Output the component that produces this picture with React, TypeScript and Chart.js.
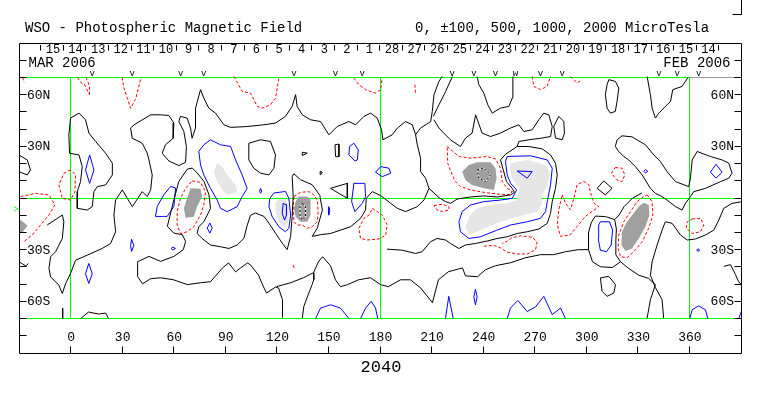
import React, { useEffect, useRef } from "react";
import { Chart, registerables } from "chart.js";

Chart.register(...registerables);

type P = [number, number];

// ---------------- axis / label data ----------------
const xTickValues = [0, 30, 60, 90, 120, 150, 180, 210, 240, 270, 300, 330, 360];
const latTickValues = [-80, -70, -60, -50, -40, -30, -20, -10, 0, 10, 20, 30, 40, 50, 60, 70, 80];
const latLabelValues = [60, 30, -30, -60];
const gridLons = [0, 180, 360];
const gridLats = [70, 0, -70];
const overlapLonStart = 360;
const dayLabels = ["15", "14", "13", "12", "11", "10", "9", "8", "7", "6", "5", "4", "3", "2", "1",
  "28", "27", "26", "25", "24", "23", "22", "21", "20", "19", "18", "17", "16", "15", "14"];
const dayStartLon = -17.4;
const dayWidthLon = 13.15;
const obsLons = [12.6, 35.9, 64, 77.5, 129.9, 154.1, 169.7, 222, 234.6, 247.2, 258.8, 273.4, 286, 342.3, 352.9, 365.4];
const obsMarks = ["v", "v", "v", "v", "v", "v", "v", "v", "v", "v", "w", "v", "v", "v", "v", "v"];
const earthMarkerLat = -7;
const titleText = "WSO - Photospheric Magnetic Field";
const levelsText = "0, \u00B1100, 500, 1000, 2000 MicroTesla";
const leftMonth = "MAR 2006";
const rightMonth = "FEB 2006";
const rotationNumber = "2040";

// ---------------- neutral (0) contours, black ----------------
const neutralA: P[] = [[4.9,49.3],[0,46.4],[-1,36.7],[-0.6,26],[4.9,25],[6.8,18.2],[5.8,9.5],[3.9,3.7],[3.9,-6],[9.7,-7],[12.6,-5],[13.6,3.7],[15.5,6.6],[20.4,7.6],[24.3,13.4],[24.3,20.2],[20.4,26],[14.6,32.8],[10.7,37.6],[8.7,45.4],[4.9,49.3]];
const neutralD: P[] = [[-30,25],[-25.2,22.1],[-23.3,16.3],[-25.2,13.4],[-30,15.3]];
const neutralG: P[] = [[-13.6,-15.7],[-4.8,-9.9],[-3.9,-13.8],[-4.8,-23.5],[-8.7,-31.2],[-11.6,-34.1],[-12.6,-40.9],[-11.6,-45.8],[-6.8,-50.6],[-4.8,-55.5],[-2.9,-49.7],[0,-43.8],[2.9,-36.1],[9.7,-33.2],[18.4,-29.3],[23.3,-26.4],[26.2,-19.6],[25.2,-9.9],[26.2,-1.2],[30.1,4.7],[33,-0.2],[35.9,-5],[41.7,3.7],[44.6,0.8],[46.6,4.7],[47.5,13.4],[45.6,22.1],[44.6,26],[41.7,31.8],[35.9,34.7],[34.9,40.6],[36.9,42.5],[46.6,48.3],[52.3,48.3],[57.2,47.9],[60.1,43.5],[59.7,34.7],[55.2,30.9],[53.3,26],[57.2,21.5],[63,18.8],[66.9,20.8],[67.4,29.9],[65.9,38.6],[63,44.4],[63.9,47.4],[67.8,46.4],[69.8,40.6],[70.7,34.7],[72.7,40.6],[72.7,52.2],[75.6,62.9],[77.5,58],[80.4,52.2],[84.3,49.3],[89.2,42.5],[93.1,41],[102.7,41.5],[112.4,42.5],[119.2,43.5],[125,47.4],[128.9,53.2],[130.9,60],[131.8,53.2],[134.8,48.3],[139.6,45.4],[145.4,44.4],[150.3,36.7],[155.1,41.5],[161.9,44.4],[165.8,42.5],[170.7,47.4],[174.5,49.3],[178.4,46.4],[180.9,39.6],[181.7,33.8],[187.1,36.7],[190.1,40.6],[194.9,44.4],[198.8,42.5],[200.7,36.7],[203.6,40.6],[209.5,44.4],[210.4,50.3],[211.4,60],[214.3,67.7],[216.2,70.6]];
const neutralH: P[] = [[123.3,-69.5],[123.3,-59.1],[121,-52.3],[119.2,-51.7],[114,-55.2],[111.7,-50.5],[109.3,-44.7],[104.7,-38.9],[102.9,-37.7],[98.9,-40.6],[96,-42.9],[91.9,-37.7],[88.4,-40.6],[81.4,-48.6],[75.6,-49.2],[68,-50.3],[59.9,-47.5],[52.3,-46.3],[46.5,-46.9],[41.9,-49.8],[39,-45.7],[39,-37],[45.6,-33.9],[52.4,-36.8],[60.1,-33.9],[65.6,-30],[66.9,-25.2],[65,-21.3],[60.1,-20.4],[56.3,-16.5],[58.2,-8.7],[60.1,-1],[63,9.6],[67.9,16.8],[70.8,17.4],[73.7,14.5],[77.6,9.6],[80.5,1.9],[81.4,-6],[79.5,-9.9],[77.5,-13.8],[74.6,-16.7],[73.6,-20.6],[76.5,-23.5],[81.4,-27.3],[87.2,-28.3],[92.1,-29.3],[96.9,-27.3],[100.8,-23.5],[102.7,-16],[104.7,-10],[107.6,-8.7],[112.5,-10.7],[115.4,-14.6],[119.2,-20.4],[123.1,-26.2],[126,-30],[128,-22.3],[128.9,-10.7],[129.5,0.9],[128.9,12.5],[129.9,14.1],[133.8,10.6],[140.6,7.7],[145,1.5],[146.5,-7],[143.5,-17.5],[140.6,-22.3],[145.4,-21.3],[151.2,-20.6],[162.9,-16.7],[168.7,-11.8],[171.6,-7],[172,-0.2],[175.5,3.7],[180.4,1.4],[186.2,-3.1],[190.1,-6],[194.9,-7.9],[201.7,-5],[205.6,-1.2],[208.5,5.6],[206.5,11.5],[203.6,15.3],[203.6,23.1],[201.7,30.9],[200.7,36.7]];
const neutralLoopB: P[] = [[103.7,31.8],[110.5,33.8],[116.3,32.8],[119.2,25],[118.3,17.3],[115.4,13.4],[110.5,14.4],[106.6,17.3],[103.7,22.1],[103.7,31.8]];
const neutralSmall1: P[] = [[153.8,30.9],[156.1,31.3],[156.1,24],[154.2,24],[153.8,30.9]];
const neutralTri: P[] = [[151.2,5.6],[161,8.5],[161,-0.2],[151.2,5.6]];
const neutralTri2: P[] = [[134.8,26.6],[137.7,26],[134.8,24.7],[134.8,26.6]];
const neutralDot: P[] = [[145.2,15.5],[146.4,15],[145.6,13.6],[145.2,15.5]];
const neutralM: P[] = [[211.4,45.4],[214.3,40.6],[217.1,37.7],[221,33.8],[226.8,29.9],[229.7,34.7],[233.6,37.7],[235.6,48.3],[239.4,37.7],[244.3,35.7],[250.1,37.7],[255.9,40.6],[260.8,42.5],[263.7,38.6],[268.5,39.6],[272.4,45.4],[275.3,49.3],[278.2,48.3],[280.2,41.5],[279.2,35.7],[273.4,34.7],[266.6,33.8],[260.8,32.8],[259.8,29.9],[266.6,29.9],[274.4,28.5],[279.2,25],[282.1,20.2],[283.1,13.4],[282.1,5.6],[280.2,-2.1],[279.2,-8.9],[277.3,-14.7],[272.4,-18],[265.6,-19.6],[259.8,-20.6],[254,-22.5],[248.2,-23.5],[242.3,-25],[235.6,-26.4],[229.7,-27.3],[225.9,-29.3],[221,-26.4],[218.1,-24.4],[213.2,-23.5],[209.4,-25.4],[204.5,-31.2],[200.6,-32.2],[192.9,-30.3],[184.1,-29.7]];
const neutralTop2: P[] = [[222.1,70.6],[218.2,61.9],[214.3,54.1],[211,47.4]];
const neutralTop11: P[] = [[236.5,70.6],[237.5,65.8],[240.4,60.9],[242.7,54.1],[245.3,49.3],[250.1,52.2],[255,53.2],[256.9,58],[257.3,70.6]];
const neutralSaddle: P[] = [[208.5,5.6],[214.3,0.2],[218.2,-2.1],[221,-3.1],[224.9,-0.6],[232.6,0.6],[240.4,1.2],[248.2,0.6],[255.9,1.8],[258.2,3.3],[256.9,5.6],[253.6,9.5],[251.7,16.3],[250.1,22.1],[253,25.4],[259.8,29.9]];
const neutralLoop11: P[] = [[284,47.4],[286.9,44.5],[287.3,37.7],[286,33.8],[282.1,34.8],[281.1,41.6],[284,47.4]];
const neutralN: P[] = [[317.9,33.8],[320.8,36.1],[326.6,35.5],[334.4,30.9],[339.3,25],[343.1,21.2],[347,15.3],[351.9,9.5],[359.6,6.6],[360.6,11.5],[361.6,22.1],[364.5,27],[372.2,24.1],[379,22.1],[382.9,20.2],[384.8,14.4],[382.9,11.5],[378.1,9.5],[369.3,5.6],[362.5,3.7],[360.6,0.8],[357.7,-3.1],[355.7,-7],[351.9,-5],[347,-1.2],[344.1,0.8],[340.2,2.7],[337.3,5.6],[332.5,13.4],[328.6,18.2],[324.7,22.1],[321.8,24.1],[318.9,27],[316.9,29.9],[317.9,33.8]];
const neutralTop12: P[] = [[335.4,70.6],[337.3,60],[338.3,52.2],[340.2,46.4],[342.2,49.3],[346,53.2],[349,56.1],[350.3,62.9],[355.7,64.8],[359.2,70]];
const neutralLoop12: P[] = [[313.1,68.7],[316.9,67.7],[318.9,63.8],[317.9,56.1],[316.9,50.3],[314,49.3],[312.1,52.2],[311.1,60],[312.1,65.8],[313.1,68.7]];
const neutralDiamond: P[] = [[310.2,9.9],[315,5.6],[311.1,1.8],[306.3,5.6],[310.2,9.9]];
const neutralQ1: P[] = [[335.4,-69.7],[337.3,-59.1],[340.2,-50.3],[336.3,-46.7],[330.5,-44.8],[324.7,-40.9],[319.9,-37],[317.2,-33],[317.2,-25],[317.5,-18],[316.5,-12.5],[311.1,-10.8],[305.3,-10.5]];
const neutralR: P[] = [[305.3,-10.5],[303,-14],[301.3,-20],[301.3,-30],[303.6,-37],[308.2,-39.9],[315.2,-40.4],[319.9,-37]];
const neutralQ2: P[] = [[345,-69.7],[344.1,-59.1],[340.2,-52],[337.3,-44.8],[338.3,-37],[341.2,-27.3],[344.1,-18.6],[346,-13.8],[349.9,-14.7],[354.8,-21.5],[358.7,-24.4],[363.5,-23.8],[369.3,-21.5],[374.2,-18.6],[377.1,-12.8],[380,-6],[384.8,-3.1],[390.7,-2.1]];
const neutralS4: P[] = [[332.5,3],[327,0],[322,-5],[319,-10],[316.5,-12.5]];
const neutralP: P[] = [[119.8,-51.5],[128,-49.2],[135.5,-46.3],[141.3,-43.4],[144.2,-37],[146.6,-34.1],[151.2,-39.3],[154.1,-47.5],[157,-51.5],[161.1,-50.3],[167.5,-47.5],[174.5,-46.3],[180.3,-50.3],[184.9,-51.5],[191.9,-47.5],[197.7,-47.5],[203.6,-52.2],[210.5,-60.8],[214,-47.5],[219.8,-42.8],[228,-40.6],[229.7,-45.2],[236.7,-45.7],[241.4,-41.6],[247.2,-39.3],[255.9,-37.6],[264.6,-34.7],[273.4,-32.9],[281,-32.9],[288,-31.2],[295.4,-30],[301.3,-30]];
const neutralBranch: P[] = [[141.3,-43.4],[141.5,-47.4],[140.5,-50.3],[138.6,-55.2],[135.7,-62.9],[134.8,-69.7]];
const neutralEdge1: P[] = [[-4.6,-64],[-4.6,-70]];
const neutralEdge2: P[] = [[5.8,-70],[10.5,-66.2],[16.3,-67.4],[20.4,-66.8],[22.1,-70]];
const neutralLoopS: P[] = [[308.2,-46.4],[313.1,-45.5],[317,-50.3],[316,-55.2],[312.1,-57.1],[309.2,-54.2],[308.2,-46.4]];
const neutralEdge3: P[] = [[380,-39.7],[383.9,-38.7],[386.8,-44.5],[388.5,-48.4],[390.2,-50.3]];
const neutralEdge4: P[] = [[-30,-37],[-26,-39.5],[-24.5,-38]];

// ---------------- negative contours (-100), red dotted ----------------
const negTopA: P[] = [[-28,70],[-27,67]];
const negTopB: P[] = [[4,70],[6,67],[8,66],[11,60]];
const negTopC: P[] = [[9,70],[11,65],[11,60]];
const negTopD: P[] = [[30,70],[31,64],[33,58],[35,52],[38,58],[41,70]];
const negLoopB: P[] = [[0,16.3],[-3.9,14.4],[-6.8,7.6],[-4.8,-0.2],[0,-1.2],[2.5,3.7],[2.9,13.4],[0,16.3]];
const negEdgeC: P[] = [[-29,0.8],[-20.4,2.7],[-12.6,1.8],[-9.1,-4],[-12.6,-9.9],[-17.5,-15.7],[-22.3,-21.5],[-27.2,-25.4]];
const negTopE: P[] = [[95,70.6],[99.8,61.9],[104.7,60.9],[108.6,53.2],[111.5,52.2],[116.3,54.1],[119.2,58],[121.2,69.7]];
const negTopF: P[] = [[164.8,69.7],[167.7,65.8],[171.6,62.9],[177.4,60.9],[180.4,62.9],[181.3,69.7]];
const negTick: P[] = [[200.3,65.8],[200.7,60]];
const negSpot1: P[] = [[70.7,9.9],[75.6,9.1],[78.5,3.7],[77.5,-4],[75.6,-9.9],[71.7,-16.7],[67.8,-19.6],[63.9,-20.6],[62,-15.7],[62,-7.9],[63.9,-0.2],[66.9,5.6],[70.7,9.9]];
const negSpot2: P[] = [[129.9,0.8],[133.8,3.3],[138.6,3.7],[141.5,1.8],[143.5,-1.2],[144,-7.9],[143.5,-13.8],[140.6,-16.7],[137.7,-17.6],[134.8,-15.7],[131.9,-15.7],[129.9,-13.8],[129.5,-6],[129.9,0.8]];
const negLoop10: P[] = [[175.5,-6],[181.3,-9.9],[184.2,-15.7],[183.3,-21.5],[179.4,-23.8],[172.6,-24.4],[168.7,-23.5],[167.7,-17.6],[170.7,-11.8],[173.6,-9.9],[175.5,-6]];
const negSmall10: P[] = [[211.4,-4.4],[216.2,-3.6],[220.1,-5],[220.1,-7],[216.2,-7.9],[213.3,-7],[211.4,-4.4]];
const negSpot3: P[] = [[219.1,29.9],[222,27.4],[225.9,24.1],[232.6,23.1],[242.3,24.1],[247.2,22.7],[250.1,17.3],[251.1,9.5],[254,5.6],[256.9,4.1],[255.9,2.1],[250.1,2.1],[240.4,3.3],[232.6,4.7],[226.8,6.6],[223.9,9.5],[222,13.4],[219.4,20.2],[219.1,29.9]];
const negTopG: P[] = [[268.5,70.6],[269.5,64.8],[273.4,62.9],[277.2,64.8],[279.2,70.6]];
const negTopH: P[] = [[290.8,70.6],[294.7,66.8],[297.6,68.7]];
const negZigzag: P[] = [[286,1.9],[287.9,-3],[290.8,-6.8],[292.8,0],[294.7,7.7],[298.6,9.6],[301.5,7.7],[302.5,2.9],[304.4,-3],[307.3,-4.9],[303.4,-7.8],[299.5,-10.7],[294.7,-16.5],[290.8,-21.3],[285,-22.3],[283.1,-15.5],[284,-6.8],[286,1.9]];
const negLower11: P[] = [[240.4,-28],[246.2,-27.5],[250.1,-29],[254,-31.5],[259.8,-32.5],[265.6,-32.5],[270.5,-30],[271.4,-25.5],[268.5,-22.8],[261.7,-22],[256.9,-23],[254,-25],[251.1,-26.5]];
const negSmall12: P[] = [[316.9,17.7],[320.8,17.3],[322.4,13.4],[320.8,9.5],[317.9,10.5],[314.6,14.4],[316.9,17.7]];
const negSpot4: P[] = [[335.4,1.8],[338.3,-2.1],[338.7,-9.9],[336.3,-17.6],[332.5,-25.4],[327.6,-31.2],[323.7,-34.7],[319.9,-34.1],[318.5,-29.3],[318.9,-21.5],[321.8,-13.8],[325.7,-7.9],[329.6,-2.1],[333.4,0.8],[335.4,1.8]];
const negLoop12: P[] = [[361.6,-12.2],[366.4,-11.8],[368.4,-15.7],[366.4,-19.6],[361.6,-20.6],[358.1,-17.6],[358.7,-13.8],[361.6,-12.2]];
const negTiny: P[] = [[129.5,-39],[130.3,-41]];

// ---------------- positive contours (+100), blue ----------------
const posA: P[] = [[11.1,25],[13.6,16.3],[11.1,8.5],[8.7,16.3],[11.1,25]];
const posEll1: P[] = [[10.6,-38],[12.6,-44],[10.6,-49.6],[8.7,-44],[10.6,-38]];
const posS: P[] = [[50.4,-4.9],[49.4,-10.7],[54,-10.7],[56.2,-10.7],[60.1,-4.9],[61.1,5.8],[58.2,6.7],[54.3,1.9],[50.4,-4.9]];
const posSmall8: P[] = [[35.5,-24],[36.8,-27.5],[35.5,-31],[34.9,-27.5],[35.5,-24]];
const posBig9: P[] = [[81.4,33.8],[87.2,30.9],[93.1,29.9],[96,22.1],[99.8,13.4],[102.7,5.6],[99.8,0.8],[96.9,-5],[91.1,-7.9],[87.2,-6],[85.3,-1.2],[81.4,5.6],[77.5,13.4],[75.6,19.2],[74.6,27],[77.5,30.9],[81.4,33.8]];
const posSmall9: P[] = [[81,-14.5],[82.4,-17.5],[81,-20.4],[79.5,-17.5],[81,-14.5]];
const posCircle9: P[] = [[59.5,-28.5],[61,-29.3],[59.5,-30.2],[58.5,-29.3],[59.5,-28.5]];
const posTiny9: P[] = [[110.5,5.6],[111.2,4],[110.5,2.8],[110,4],[110.5,5.6]];
const posSpot2: P[] = [[118.3,2.9],[125,3.8],[127,-0.2],[128,-9.9],[127,-17.6],[125,-19.6],[121.2,-16.7],[117.3,-10.9],[115.4,-5],[115.9,-0.2],[118.3,2.9]];
const posSpot2In: P[] = [[123.7,-3.1],[125.6,-4],[125.6,-9.9],[124.5,-12.8],[123.1,-8.9],[123.7,-3.1]];
const pos10a: P[] = [[164.8,31.8],[167.4,27.9],[166.8,22.1],[165.4,21.5],[161.9,25],[162.3,29.9],[164.8,31.8]];
const pos10b: P[] = [[180.4,18.2],[185.2,17.3],[186.2,14.4],[181.3,12.4],[177.4,15],[180.4,18.2]];
const pos10c: P[] = [[164.8,8.5],[171.2,8.5],[171.6,0.8],[169.7,-3.1],[165.4,-7.9],[163.5,-2.1],[164.8,8.5]];
const pos10d: P[] = [[150.3,-5],[150.8,-7.5],[150.3,-9.9],[149.8,-7.5],[150.3,-5]];
const posSpot3: P[] = [[253,21.2],[254,24.1],[267.6,24.5],[277.3,22.1],[280.2,17.3],[279.2,7.6],[277.3,-2.1],[276.3,-7.9],[273.4,-11.8],[265.6,-13.8],[255.9,-15.7],[248.2,-18.6],[238.5,-22.5],[231.7,-23.5],[226.8,-19.6],[225.9,-13.8],[227.8,-7.9],[232.6,-4.1],[240.4,-2.1],[250.1,-1.2],[256.9,-0.2],[259.5,4.7],[256,8.5],[254,13.4],[253,21.2]];
const posSpot3In: P[] = [[259.8,15.7],[268.5,15.3],[265.6,11.5],[259.8,15.7]];
const posLoop12: P[] = [[308.2,-13.8],[313.5,-13.8],[315.3,-18.6],[314.5,-27.3],[311.8,-31.2],[308.2,-30.3],[306.9,-23.5],[307.2,-15.7],[308.2,-13.8]];
const posDiamond: P[] = [[375.5,19.6],[379,15],[375.5,11.5],[372.2,15],[375.5,19.6]];
const posTiny12a: P[] = [[334.4,16.5],[335.8,15.5],[334.4,14.5],[333.4,15.5],[334.4,16.5]];
const posTiny12b: P[] = [[365,-29.5],[366,-30.3],[365,-31],[364.2,-30.3],[365,-29.5]];
const posBottom1: P[] = [[142.5,-70],[145.4,-63.9],[151.2,-62],[157,-63.9],[161.9,-70]];
const posBottom2: P[] = [[168.7,-70],[171.6,-63.9],[174.9,-60],[177.4,-63.9],[178.7,-70]];
const posBottom3: P[] = [[218.1,-70],[220,-57.1],[222.6,-70]];
const posEll2: P[] = [[235.5,-53],[236.5,-57.5],[235.5,-62],[234.6,-57.5],[235.5,-53]];
const posBottom4: P[] = [[254,-70],[255.9,-63.9],[260.2,-59.5],[265.6,-65.9],[270.4,-63.3],[275.3,-57.1],[280.2,-67.7],[285,-63.9],[287.9,-70]];
const posBottom5: P[] = [[360.2,-70],[361.6,-64.9],[365.4,-62.6],[369.3,-64.9],[370.7,-70]];
const posBottom6: P[] = [[388.7,-70],[390.6,-64.9]];

// ---------------- strong field areas (|B| >= 500) ----------------
const strongNeg1: P[] = [[69.8,5.6],[75.6,5.3],[76.5,0.8],[73.6,-5],[71.7,-10.9],[66.9,-11.4],[65.9,-6],[67.8,-0.2],[69.8,5.6]];
const strongNeg2: P[] = [[132.8,0.8],[137.7,0.8],[139.6,-0.9],[139.6,-9.9],[137.7,-13.8],[133.8,-13.8],[130.9,-10.9],[129.9,-6],[130.9,-2.1],[132.8,0.8]];
const strongNeg3: P[] = [[227.8,15.3],[231.7,19.2],[236.5,20.8],[244.3,20.8],[247.2,17.3],[247.8,11.5],[246.2,4.7],[240.4,5.6],[233.6,7.6],[229.7,10.5],[227.8,15.3]];
const strongNeg4: P[] = [[333.4,-2.7],[336.3,-4.1],[336.7,-9.9],[334.4,-16.7],[330.5,-23.5],[326.6,-29.3],[322.8,-30.8],[320.4,-27.3],[320.8,-19.6],[323.7,-13.8],[327.6,-8.9],[330.5,-5],[333.4,-2.7]];
const strongNegEdge: P[] = [[-30,-12],[-25,-16],[-28,-20],[-30,-20],[-30,-12]];
const strongPos1: P[] = [[85.3,20.2],[88.2,18.2],[91.1,13.4],[96,7.6],[96.9,3.7],[91.1,1.8],[88.2,4.7],[85.3,9.5],[83.3,15.3],[85.3,20.2]];
const strongPos2: P[] = [[120.2,-1],[125,-0.6],[127,-6],[126.4,-14.7],[124.1,-16.7],[121.2,-13.8],[119.2,-7.9],[119.2,-3.1],[120.2,-1]];
const strongPos3: P[] = [[256,20],[265.6,22.1],[276.3,19.2],[278.8,15],[277.3,7.6],[273.8,-0.2],[274.4,-3.1],[271.8,-7.9],[259.8,-10.9],[250.1,-13.8],[238.5,-18.6],[231.7,-21.5],[229.7,-16.7],[232.6,-9.9],[236.5,-6],[244.3,-4.1],[254,-3.1],[259.8,-1.2],[261,5.6],[257,11],[255.5,16],[256,20]];
// -1000 contours inside the strongest negative areas
const core2: P[] = [[134.8,-3.1],[136.7,-5],[136.7,-10.9],[134.8,-12.8],[133.4,-9.9],[133.4,-5],[134.8,-3.1]];
const core3: P[] = [[236.5,16.3],[240.4,17.3],[244.3,13.4],[241.4,9.5],[237.5,11.5],[236.5,16.3]];

const neutralLines = [neutralA, neutralD, neutralG, neutralH, neutralLoopB, neutralSmall1, neutralTri, neutralTri2, neutralDot,
  neutralM, neutralTop2, neutralTop11, neutralSaddle, neutralLoop11, neutralN, neutralTop12, neutralLoop12, neutralDiamond,
  neutralQ1, neutralR, neutralQ2, neutralS4, neutralP, neutralBranch, neutralEdge1, neutralEdge2, neutralLoopS, neutralEdge3, neutralEdge4];
const negativeLines = [negTopA, negTopB, negTopC, negTopD, negLoopB, negEdgeC, negTopE, negTopF, negTick, negSpot1, negSpot2,
  negLoop10, negSmall10, negSpot3, negTopG, negTopH, negZigzag, negLower11, negSmall12, negSpot4, negLoop12, negTiny];
const positiveLines = [posA, posEll1, posS, posSmall8, posBig9, posSmall9, posCircle9, posTiny9, posSpot2, posSpot2In, pos10a, pos10b,
  pos10c, pos10d, posSpot3, posSpot3In, posLoop12, posDiamond, posTiny12a, posTiny12b, posBottom1, posBottom2, posBottom3, posEll2,
  posBottom4, posBottom5, posBottom6];
const strongNegAreas = [strongNeg1, strongNeg2, strongNeg3, strongNeg4, strongNegEdge];
const strongPosAreas = [strongPos1, strongPos2, strongPos3];
const coreLines = [core2, core3];

// ---------------- helpers ----------------
const toXY = (pts: P[]) => pts.map(([x, y]) => ({ x, y }));

function strokeSet(pts: P[], color: string, dash: number[], order: number) {
  return {
    data: toXY(pts), showLine: true, borderColor: color, borderWidth: 1, borderDash: dash,
    pointRadius: 0, pointHoverRadius: 0, fill: false, tension: 0, order,
  };
}

// closed polygon reordered to start at its leftmost vertex and end at its rightmost one,
// so the filler's x-bounds cover the whole shape
function fillOrder(pts: P[]): P[] {
  const first = pts[0], last = pts[pts.length - 1];
  const open = first[0] === last[0] && first[1] === last[1] ? pts.slice(0, -1) : pts.slice();
  let li = 0, ri = 0;
  open.forEach((p, i) => { if (p[0] < open[li][0]) li = i; if (p[0] > open[ri][0]) ri = i; });
  const rot = [...open.slice(li), ...open.slice(0, li)];
  return [...rot, rot[0], open[ri]];
}

function areaSet(pts: P[], color: string) {
  return {
    data: toXY(fillOrder(pts)), showLine: true, borderWidth: 0, borderColor: "rgba(0,0,0,0)",
    backgroundColor: color, fill: "shape", pointRadius: 0, pointHoverRadius: 0, tension: 0, order: 10,
  };
}

const MONO = '"Liberation Mono", "DejaVu Sans Mono", monospace';

const wsoPlugin = {
  id: "wsoDecor",
  beforeDatasetsDraw(chart: any) {
    const { ctx, chartArea: a, scales } = chart;
    const x = scales.x, y = scales.y;
    ctx.save();
    ctx.lineWidth = 1;
    const xOverlap = x.getPixelForValue(overlapLonStart);
    gridLats.forEach((lat, i) => {
      const py = Math.floor(y.getPixelForValue(lat)) + 0.5;
      ctx.strokeStyle = "#00ff00";
      ctx.beginPath();
      ctx.moveTo(a.left, py);
      ctx.lineTo(i === 0 ? xOverlap : a.right, py);
      ctx.stroke();
      if (i === 0) {
        ctx.strokeStyle = "#9a9a9a";
        ctx.beginPath();
        ctx.moveTo(xOverlap, py);
        ctx.lineTo(a.right, py);
        ctx.stroke();
      }
    });
    ctx.strokeStyle = "#00ff00";
    const top = y.getPixelForValue(gridLats[0]), bot = y.getPixelForValue(gridLats[2]);
    ctx.beginPath();
    for (const lon of gridLons) {
      const px = Math.floor(x.getPixelForValue(lon)) + 0.5;
      ctx.moveTo(px, top); ctx.lineTo(px, bot);
    }
    ctx.stroke();
    ctx.restore();
  },
  afterDraw(chart: any) {
    const { ctx, chartArea: a, scales } = chart;
    const x = scales.x, y = scales.y;
    const L = Math.floor(a.left) + 0.5, R = Math.floor(a.right) + 0.5;
    const T = Math.floor(a.top) + 0.5, B = Math.floor(a.bottom) + 0.5;
    ctx.save();
    ctx.strokeStyle = "#000";
    ctx.fillStyle = "#000";
    ctx.lineWidth = 1;
    // frame
    ctx.beginPath();
    ctx.rect(L, T, R - L, B - T);
    ctx.stroke();
    // latitude ticks, both sides
    ctx.beginPath();
    for (const lat of latTickValues) {
      const py = Math.floor(y.getPixelForValue(lat)) + 0.5;
      ctx.moveTo(L, py); ctx.lineTo(L + 7, py);
      ctx.moveTo(R, py); ctx.lineTo(R - 7, py);
    }
    // longitude ticks
    for (const lon of xTickValues) {
      const px = Math.floor(x.getPixelForValue(lon)) + 0.5;
      ctx.moveTo(px, B); ctx.lineTo(px, B - 7);
    }
    // day boundaries
    for (let k = 0; k <= dayLabels.length; k++) {
      const px = Math.floor(x.getPixelForValue(dayStartLon + k * dayWidthLon)) + 0.5;
      ctx.moveTo(px, T + 1.5); ctx.lineTo(px, T + 7);
    }
    // corner mark
    ctx.moveTo(R, 0); ctx.lineTo(R, 14.5); ctx.lineTo(R - 9, 14.5);
    ctx.stroke();

    ctx.textBaseline = "middle";
    // latitude labels
    ctx.font = `13px ${MONO}`;
    for (const lat of latLabelValues) {
      const txt = lat > 0 ? `${lat}N` : `${-lat}S`;
      const py = y.getPixelForValue(lat) + 0.5;
      ctx.textAlign = "left"; ctx.fillText(txt, L + 7.5, py);
      ctx.textAlign = "right"; ctx.fillText(txt, R - 7.5, py);
    }
    // longitude labels
    ctx.textAlign = "center";
    for (const lon of xTickValues) {
      ctx.fillText(String(lon), x.getPixelForValue(lon) + 0.5, B - 16);
    }
    // day numbers
    ctx.font = `12px ${MONO}`;
    dayLabels.forEach((d, i) => {
      ctx.fillText(d, x.getPixelForValue(dayStartLon + (i + 0.5) * dayWidthLon) + 1, T + 6.5);
    });
    // observation marks
    ctx.font = `9px ${MONO}`;
    obsLons.forEach((lon, i) => {
      ctx.fillText(obsMarks[i], x.getPixelForValue(lon), y.getPixelForValue(gridLats[0]) - 4);
    });
    // months
    ctx.font = `14px ${MONO}`;
    ctx.textAlign = "left";
    ctx.fillText(leftMonth, L + 9, T + 19.5);
    ctx.textAlign = "right";
    ctx.fillText(rightMonth, R - 11, T + 19.5);
    // titles
    ctx.textAlign = "left";
    ctx.fillText(titleText, 25, 28);
    ctx.fillText(levelsText, 415, 28);
    // rotation number
    ctx.font = `17px ${MONO}`;
    ctx.textAlign = "center";
    ctx.fillText(rotationNumber, x.getPixelForValue(180) + 1, B + 13.5);
    // earth latitude marker
    ctx.fillStyle = "#00ff00";
    ctx.font = `9px ${MONO}`;
    ctx.textAlign = "right";
    ctx.fillText(">", L - 0.5, y.getPixelForValue(earthMarkerLat));
    ctx.restore();
  },
};

export default function App() {
  const canvasRef = useRef<HTMLCanvasElement | null>(null);

  useEffect(() => {
    const canvas = canvasRef.current;
    if (!canvas) return;
    const datasets: any[] = [];
    strongNegAreas.forEach((p) => datasets.push(areaSet(p, "#a0a0a0")));
    strongPosAreas.forEach((p) => datasets.push(areaSet(p, "#e6e6e6")));
    neutralLines.forEach((p) => datasets.push(strokeSet(p, "#000000", [], 5)));
    negativeLines.forEach((p) => datasets.push(strokeSet(p, "#ff0000", [3, 2], 5)));
    positiveLines.forEach((p) => datasets.push(strokeSet(p, "#0000ff", [], 5)));
    coreLines.forEach((p) => datasets.push(strokeSet(p, "#ffffff", [], 2)));
    coreLines.forEach((p) => datasets.push(strokeSet(p, "#000000", [2, 2], 1)));

    const chart = new Chart(canvas, {
      type: "scatter",
      data: { datasets },
      options: {
        animation: false,
        responsive: false,
        devicePixelRatio: 1,
        events: [],
        layout: { padding: { left: 19, right: 22, top: 43, bottom: 43 } },
        scales: {
          x: { type: "linear", min: -30, max: 390, display: false },
          y: { type: "linear", min: -90, max: 90, display: false },
        },
        plugins: { legend: { display: false }, tooltip: { enabled: false } },
      },
      plugins: [wsoPlugin],
    } as any);
    return () => chart.destroy();
  }, []);

  return (
    <div style={{ position: "fixed", left: 0, top: 0, width: 763, height: 396, background: "#fff" }}>
      <canvas ref={canvasRef} width={763} height={396} style={{ display: "block", width: 763, height: 396 }} />
    </div>
  );
}
